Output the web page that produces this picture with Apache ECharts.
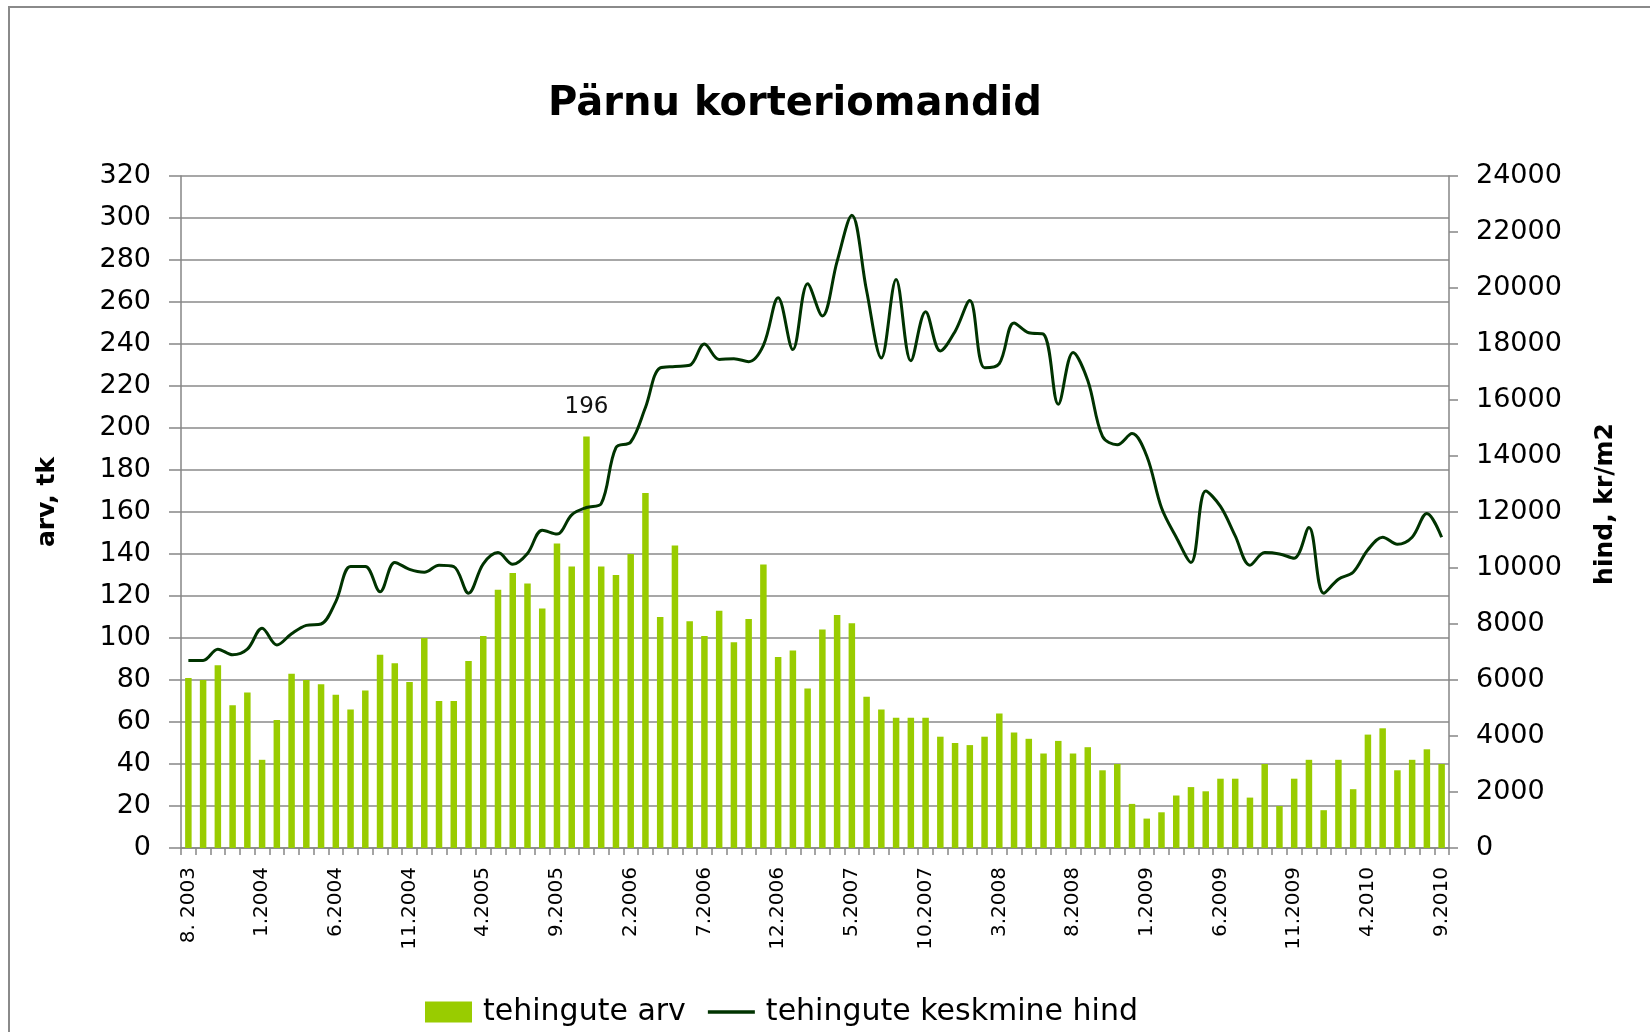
<!DOCTYPE html>
<html>
<head>
<meta charset="utf-8">
<title>Pärnu korteriomandid</title>
<script src="https://cdn.jsdelivr.net/npm/echarts@6/dist/echarts.min.js"></script>
<style>
  html, body { margin: 0; padding: 0; background: #fff; }
  #chart { width: 1650px; height: 1032px; }
</style>
</head>
<body>
<div id="chart"></div>
<script>
// kuud 8.2003 ... 9.2010
const months = [
  '8. 2003', '9.2003', '10.2003', '11.2003', '12.2003',
  '1.2004', '2.2004', '3.2004', '4.2004', '5.2004', '6.2004', '7.2004', '8.2004', '9.2004', '10.2004', '11.2004', '12.2004',
  '1.2005', '2.2005', '3.2005', '4.2005', '5.2005', '6.2005', '7.2005', '8.2005', '9.2005', '10.2005', '11.2005', '12.2005',
  '1.2006', '2.2006', '3.2006', '4.2006', '5.2006', '6.2006', '7.2006', '8.2006', '9.2006', '10.2006', '11.2006', '12.2006',
  '1.2007', '2.2007', '3.2007', '4.2007', '5.2007', '6.2007', '7.2007', '8.2007', '9.2007', '10.2007', '11.2007', '12.2007',
  '1.2008', '2.2008', '3.2008', '4.2008', '5.2008', '6.2008', '7.2008', '8.2008', '9.2008', '10.2008', '11.2008', '12.2008',
  '1.2009', '2.2009', '3.2009', '4.2009', '5.2009', '6.2009', '7.2009', '8.2009', '9.2009', '10.2009', '11.2009', '12.2009',
  '1.2010', '2.2010', '3.2010', '4.2010', '5.2010', '6.2010', '7.2010', '8.2010', '9.2010'
]

// tehingute arv (tk)
const dealCount = [
  81, 80, 87, 68, 74, 42, 61, 83, 80, 78,
  73, 66, 75, 92, 88, 79, 100, 70, 70, 89,
  101, 123, 131, 126, 114, 145, 134, 196, 134, 130,
  140, 169, 110, 144, 108, 101, 113, 98, 109, 135,
  91, 94, 76, 104, 111, 107, 72, 66, 62, 62,
  62, 53, 50, 49, 53, 64, 55, 52, 45, 51,
  45, 48, 37, 40, 21, 14, 17, 25, 29, 27,
  33, 33, 24, 40, 20, 33, 42, 18, 42, 28,
  54, 57, 37, 42, 47, 40
]

// tehingute keskmine hind (kr/m2)
const avgPrice = [
  6700, 6700, 7100, 6900, 7100, 7850, 7250, 7650, 7950, 8000,
  8800, 10050, 10050, 9150, 10200, 9950, 9850, 10100, 10050, 9100,
  10150, 10550, 10130, 10520, 11350, 11210, 11900, 12160, 12300, 14300,
  14500, 15730, 17150, 17200, 17240, 18000, 17450, 17475, 17370, 17950,
  19650, 17800, 20150, 19000, 20950, 22600, 19900, 17500, 20300, 17400,
  19150, 17750, 18450, 19550, 17150, 17300, 18750, 18400, 18350, 15850,
  17700, 16700, 14700, 14400, 14800, 14000, 12150, 11100, 10200, 12750,
  12200, 11150, 10100, 10550, 10500, 10350, 11450, 9100, 9600, 9850,
  10650, 11100, 10850, 11100, 11950, 11100
]

const FONT = 'DejaVu Sans'
const GRID_COLOR = '#8a8a8a'
const AXIS_COLOR = '#868686'
const BAR_COLOR = '#99cc00'
const LINE_COLOR = '#003300'

const chart = echarts.init(document.getElementById('chart'))

// ainult suurima tulba kohal on silt
const peakIdx = dealCount.indexOf(Math.max(...dealCount))
const barData = dealCount.map((v, i) => i === peakIdx
  ? { value: v, label: { show: true, position: 'top', distance: 18, fontFamily: FONT, fontSize: 23, color: '#111' } }
  : v)

// legendi joon: ümbris 47x21, keskel 3.5px paksune joon
const lineIcon = 'path://M0,0L0,0M0,8.75L47,8.75L47,12.25L0,12.25ZM47,21L47,21'

const option = {
  animation: false,
  backgroundColor: '#fff',
  graphic: [
    {
      type: 'rect',
      shape: { x: 9, y: 7, width: 1700, height: 1100 },
      style: { fill: null, stroke: '#8a8a8a', lineWidth: 2 },
      silent: true
    }
  ],
  title: {
    text: 'Pärnu korteriomandid',
    left: 790,
    textAlign: 'center',
    top: 80,
    textStyle: { fontFamily: FONT, fontWeight: 'bold', fontSize: 40, color: '#000' }
  },
  legend: {
    left: 420,
    top: 992,
    itemWidth: 47,
    itemHeight: 21,
    itemGap: 22,
    textStyle: { fontFamily: FONT, fontSize: 30, color: '#000', padding: [0, 0, 0, 6] },
    data: [
      { name: 'tehingute arv', icon: 'rect' },
      { name: 'tehingute keskmine hind', icon: lineIcon }
    ]
  },
  grid: {
    left: 181,
    right: 201,
    top: 176,
    bottom: 184
  },
  xAxis: {
    type: 'category',
    data: months,
    boundaryGap: true,
    axisLine: { lineStyle: { color: AXIS_COLOR, width: 1.5 } },
    axisTick: { show: true, interval: 0, length: 7, lineStyle: { color: AXIS_COLOR, width: 1.5 } },
    axisLabel: { interval: 4, rotate: 90, margin: 19, fontFamily: FONT, fontSize: 20, color: '#000' }
  },
  yAxis: [
    {
      type: 'value',
      min: 0,
      max: 320,
      interval: 20,
      name: 'arv, tk',
      nameLocation: 'middle',
      nameRotate: 90,
      nameGap: 121,
      nameTextStyle: { fontFamily: FONT, fontWeight: 'bold', fontSize: 25, color: '#000', padding: [0, 0, 0, 20] },
      axisLine: { show: true, lineStyle: { color: AXIS_COLOR, width: 1.5 } },
      axisTick: { show: true, length: 12, lineStyle: { color: AXIS_COLOR, width: 1.5 } },
      axisLabel: { margin: 30, fontFamily: FONT, fontSize: 27, color: '#000' },
      splitLine: { show: true, lineStyle: { color: GRID_COLOR, width: 1.5 } }
    },
    {
      type: 'value',
      position: 'right',
      min: 0,
      max: 24000,
      interval: 2000,
      name: 'hind, kr/m2',
      nameLocation: 'middle',
      nameRotate: 90,
      nameGap: 144,
      nameTextStyle: { fontFamily: FONT, fontWeight: 'bold', fontSize: 25, color: '#000', padding: [0, 0, 0, 16] },
      axisLine: { show: true, lineStyle: { color: AXIS_COLOR, width: 1.5 } },
      axisTick: { show: true, length: 9, lineStyle: { color: AXIS_COLOR, width: 1.5 } },
      axisLabel: { margin: 27, fontFamily: FONT, fontSize: 27, color: '#000', formatter: v => String(v) },
      splitLine: { show: false }
    }
  ],
  series: [
    {
      name: 'tehingute arv',
      type: 'bar',
      yAxisIndex: 0,
      data: barData,
      barWidth: 6.5,
      itemStyle: { color: BAR_COLOR }
    },
    {
      name: 'tehingute keskmine hind',
      type: 'line',
      yAxisIndex: 1,
      data: avgPrice,
      smooth: 0.35,
      symbol: 'none',
      lineStyle: { color: LINE_COLOR, width: 3 },
      itemStyle: { color: LINE_COLOR }
    }
  ]
}

chart.setOption(option)
</script>
</body>
</html>
